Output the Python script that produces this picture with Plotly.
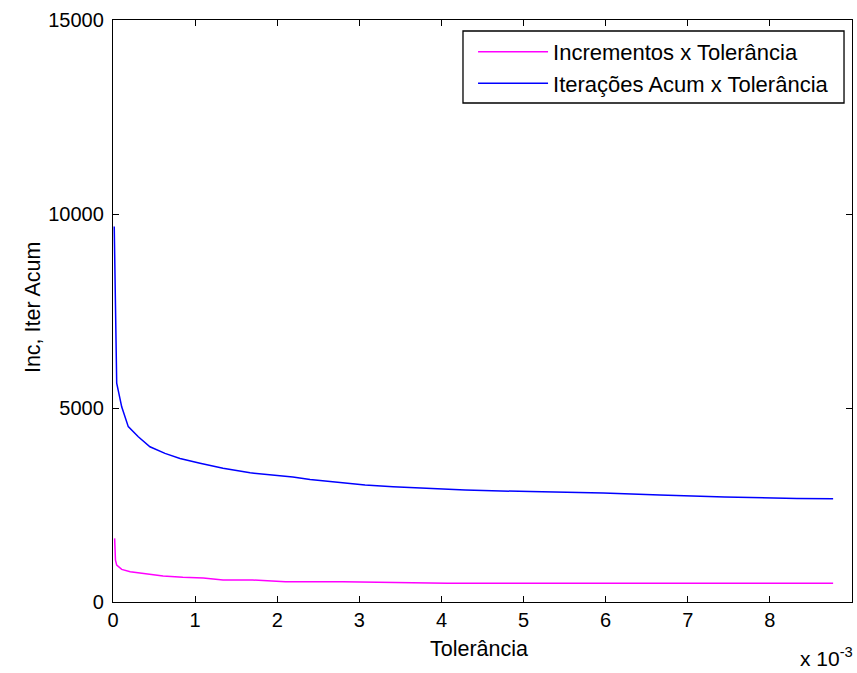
import plotly.graph_objects as go

# Tolerance values in units of 1e-3
tol_iter = [0.015, 0.037, 0.045, 0.106, 0.186, 0.308, 0.45, 0.633, 0.816, 1.06,
            1.34, 1.67, 1.91, 2.07, 2.19, 2.40, 2.61, 2.80, 3.07, 3.41, 3.84,
            4.29, 5.08, 5.44, 5.97, 6.66, 7.45, 8.33, 8.77]
iter_acum = [9680, 6420, 5640, 5030, 4520, 4260, 4000, 3830, 3700, 3575,
             3445, 3330, 3280, 3250, 3220, 3160, 3115, 3065, 3015, 2970, 2930,
             2885, 2845, 2835, 2810, 2755, 2705, 2670, 2660]

tol_inc = [0.02, 0.03, 0.045, 0.106, 0.21, 0.37, 0.61, 0.85, 1.1, 1.34,
           1.7, 2.1, 2.8, 4.07, 6.0, 8.77]
incrementos = [1640, 1080, 950, 840, 780, 740, 670, 636, 620, 567,
               567, 524, 524, 482, 482, 482]

x_ticks = [0, 1, 2, 3, 4, 5, 6, 7, 8, 9]
y_ticks = [0, 5000, 10000, 15000]

FONT = "Liberation Sans, Arial, sans-serif"

fig = go.Figure()
fig.add_trace(go.Scatter(x=tol_inc, y=incrementos, mode="lines",
                         name="Incrementos x Tolerância", legendgroup="inc",
                         line=dict(color="#ff00ff", width=1.5)))
fig.add_trace(go.Scatter(x=tol_iter, y=iter_acum, mode="lines",
                         name="Iterações Acum x Tolerância", legendgroup="iter",
                         line=dict(color="#0000ff", width=1.5)))

axis_common = dict(showline=True, linecolor="black", linewidth=1.3, mirror="ticks",
                   ticks="inside", ticklen=6, tickcolor="black", showgrid=False,
                   zeroline=False, tickfont=dict(family=FONT, size=20, color="black"))

fig.update_layout(
    width=857, height=673,
    margin=dict(l=113, r=5, t=20, b=71),
    paper_bgcolor="white", plot_bgcolor="white",
    font=dict(family=FONT, size=20, color="black"),
    xaxis=dict(range=[0, 9], tickvals=x_ticks, ticktext=[str(v) for v in x_ticks], **axis_common),
    yaxis=dict(range=[0, 15000], tickvals=y_ticks, ticktext=[str(v) for v in y_ticks],
               ticklabelstandoff=4, **axis_common),
    legend=dict(x=0.4872, y=0.9814, xanchor="left", yanchor="top",
                borderwidth=0, bgcolor="rgba(0,0,0,0)",
                font=dict(family=FONT, size=22, color="black"),
                itemwidth=70, tracegroupgap=0, traceorder="normal"),
    showlegend=True,
)

# legend frame
fig.add_shape(type="rect", xref="paper", yref="paper",
              x0=0.4736, x1=0.9892, y0=0.8574, y1=0.9811,
              line=dict(color="black", width=1.3), fillcolor="white", layer="below")

fig.add_annotation(text="Inc, Iter Acum", textangle=-90, xref="paper", yref="paper",
                   x=0, y=0.505, xanchor="center", yanchor="middle", xshift=-80,
                   showarrow=False, font=dict(family=FONT, size=21.5, color="black"))
fig.add_annotation(text="Tolerância", xref="paper", yref="paper",
                   x=0.495, y=0, xanchor="center", yanchor="middle", yshift=-47,
                   showarrow=False, font=dict(family=FONT, size=21.5, color="black"))
fig.add_annotation(text="x 10<sup>-3</sup>", xref="paper", yref="paper",
                   x=1, y=0, xanchor="right", yanchor="top", xshift=3, yshift=-40,
                   showarrow=False, font=dict(family=FONT, size=21, color="black"))

fig.write_html("out.html")
